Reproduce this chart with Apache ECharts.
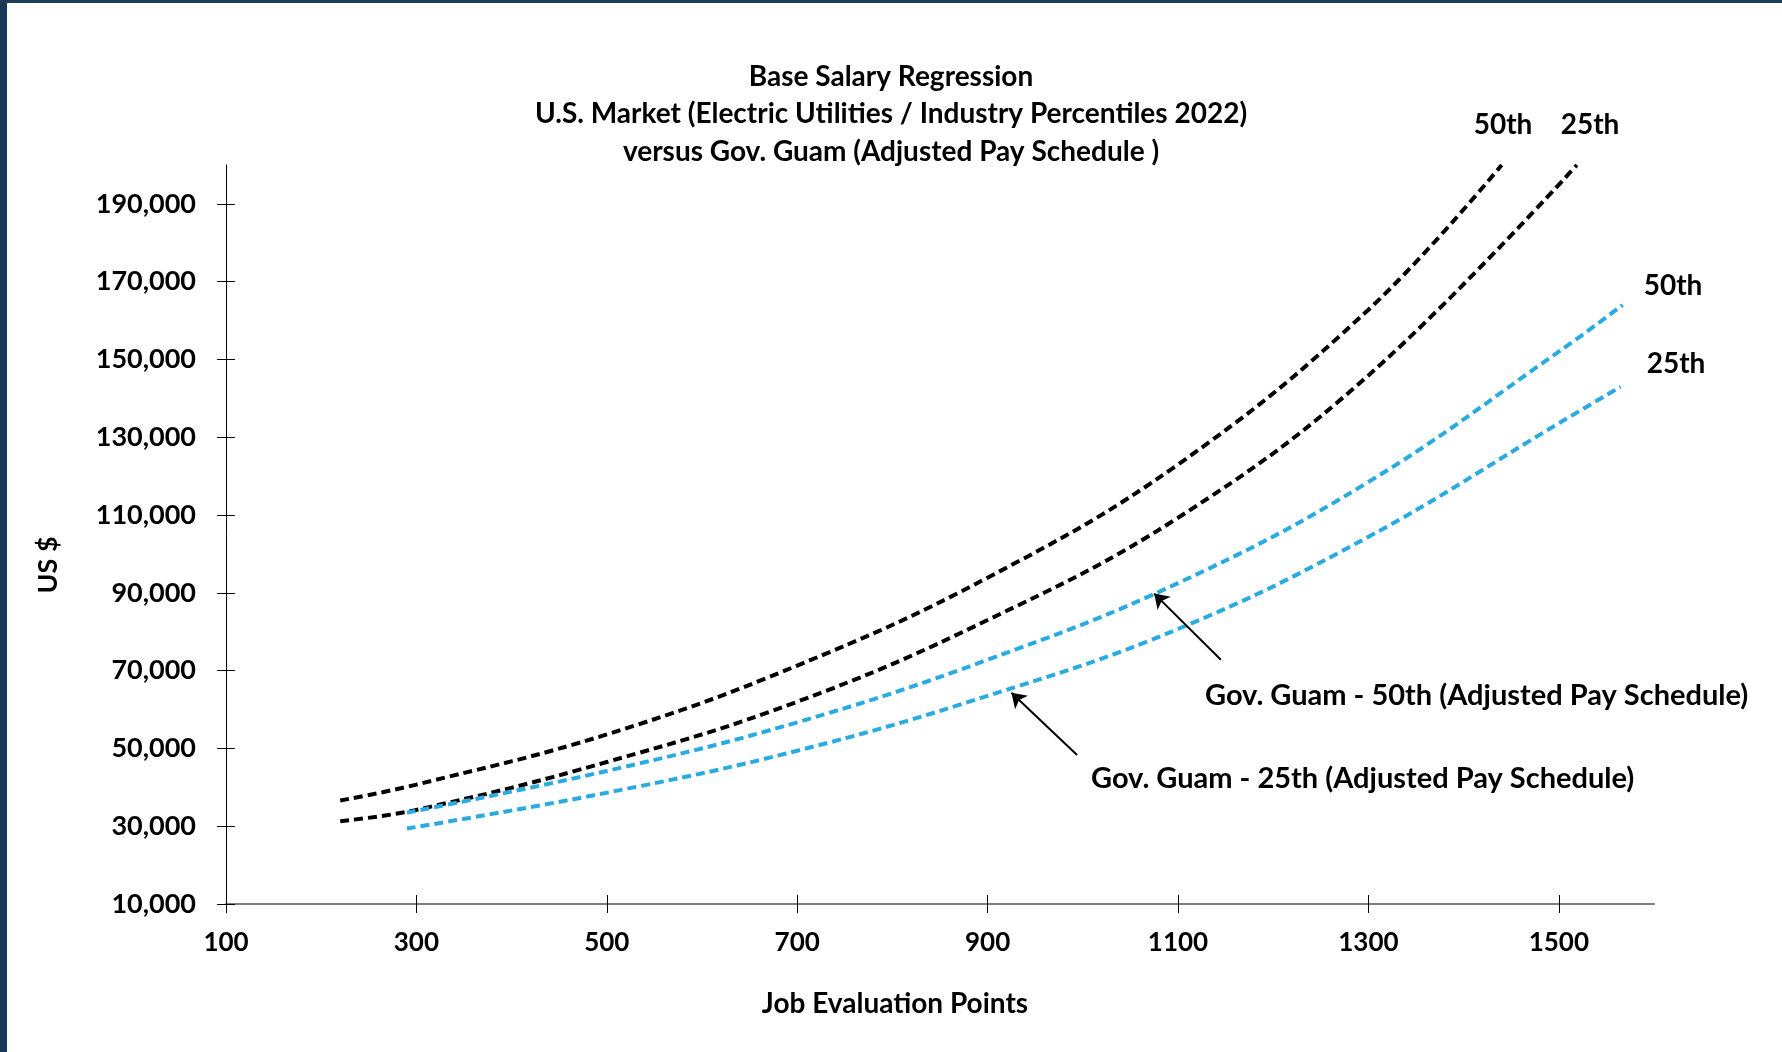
<!DOCTYPE html>
<html>
<head>
    <meta charset="utf-8">
    <title>Base Salary Regression</title>
    <script src="https://cdn.jsdelivr.net/npm/echarts@6/dist/echarts.min.js"></script>
    <style>html,body{margin:0;padding:0;background:#fff;}</style>
</head>
<body>
    <div id="main" style="width:1782px;height:1052px;"></div>
    <script type="text/javascript">
        // tick values
        var xTicks = [100, 300, 500, 700, 900, 1100, 1300, 1500];
        var yTicks = [10000, 30000, 50000, 70000, 90000, 110000, 130000, 150000, 170000, 190000];

        // U.S. market regression lines
        var market50X = [220, 300, 500, 700, 900, 1100, 1300, 1440];
        var market50Y = [36600, 40700, 53600, 71300, 93900, 123000, 162800, 200000];
        var market25X = [220, 300, 500, 700, 900, 1100, 1300, 1519];
        var market25Y = [31300, 34200, 46500, 62000, 83000, 109300, 145900, 200000];

        // Gov. Guam adjusted pay schedule
        var guam50X = [290, 500, 700, 900, 1100, 1300, 1500, 1567];
        var guam50Y = [33500, 44200, 56700, 72800, 92500, 118500, 152000, 164000];
        var guam25X = [290, 500, 700, 900, 1100, 1300, 1500, 1565];
        var guam25Y = [29400, 38600, 49400, 63500, 80700, 104400, 133600, 143000];

        // annotation arrows [tail, tip] in data units
        var arrow50 = [[1145, 72800], [1075, 89800]];
        var arrow25 = [[994, 48300], [925, 64300]];

        function pairs(xs, ys) {
            return xs.map(function (x, i) { return [x, ys[i]]; });
        }

        var FONT = 'Lato';
        var myChart = echarts.init(document.getElementById('main'));

        function txt(x, y, text, size, align, rot) {
            return {
                type: 'text', x: x, y: y, z: 10, rotation: rot || 0,
                style: {
                    text: text, fill: '#000', align: align || 'center', verticalAlign: 'middle',
                    font: 'bold ' + size + 'px ' + FONT
                }
            };
        }

        function dashed(color) {
            return { color: color, width: 4, type: [9, 5] };
        }

        var option = {
            animation: false,
            backgroundColor: '#fff',
            title: {
                text: 'Base Salary Regression\nU.S. Market (Electric Utilities / Industry Percentiles 2022)\nversus Gov. Guam (Adjusted Pay Schedule )',
                left: 'center',
                top: 53,
                textStyle: { fontFamily: FONT, fontSize: 28, fontWeight: 'bold', color: '#000', lineHeight: 37.5 }
            },
            grid: { left: 226, right: 128, top: 165, bottom: 148 },
            xAxis: [{
                type: 'value', min: 100, max: 1600,
                axisLine: { lineStyle: { color: '#7f7f7f', width: 2 } },
                axisTick: { length: 9, lineStyle: { color: '#000', width: 1 }, customValues: xTicks },
                axisLabel: {
                    customValues: xTicks, margin: 26, color: '#000', fontFamily: FONT, fontSize: 26, fontWeight: 'bold',
                    formatter: function (v) { return String(v); }
                },
                splitLine: { show: false }
            }, {
                type: 'value', min: 100, max: 1600, position: 'bottom',
                axisLine: { show: false },
                axisTick: { inside: true, length: 9, lineStyle: { color: '#000', width: 1 }, customValues: xTicks },
                axisLabel: { show: false, customValues: xTicks },
                splitLine: { show: false }
            }],
            yAxis: [{
                type: 'value', min: 10000, max: 200000,
                axisLine: { show: true, lineStyle: { color: '#000', width: 1 } },
                axisTick: { show: true, length: 9, lineStyle: { color: '#000', width: 1 }, customValues: yTicks },
                axisLabel: {
                    customValues: yTicks, margin: 30, color: '#000', fontFamily: FONT, fontSize: 27, fontWeight: 'bold',
                    formatter: function (v) { return v.toLocaleString('en-US'); }
                },
                splitLine: { show: false }
            }, {
                type: 'value', min: 10000, max: 200000, position: 'left',
                axisLine: { show: false },
                axisTick: { show: true, inside: true, length: 9, lineStyle: { color: '#000', width: 1 }, customValues: yTicks },
                axisLabel: { show: false, customValues: yTicks },
                splitLine: { show: false }
            }],
            series: [{
                name: 'Market 50th', type: 'line', smooth: 0.4, showSymbol: false,
                data: pairs(market50X, market50Y), lineStyle: dashed('#000')
            }, {
                name: 'Market 25th', type: 'line', smooth: 0.4, showSymbol: false,
                data: pairs(market25X, market25Y), lineStyle: dashed('#000')
            }, {
                name: 'Gov. Guam 50th', type: 'line', smooth: 0.4, showSymbol: false,
                data: pairs(guam50X, guam50Y), lineStyle: dashed('#29abe2'),
                markLine: {
                    silent: true, symbol: ['none', 'arrow'], symbolSize: 14,
                    lineStyle: { color: '#000', width: 2, type: 'solid' }, label: { show: false },
                    data: [[{ coord: arrow50[0] }, { coord: arrow50[1] }]]
                }
            }, {
                name: 'Gov. Guam 25th', type: 'line', smooth: 0.4, showSymbol: false,
                data: pairs(guam25X, guam25Y), lineStyle: dashed('#29abe2'),
                markLine: {
                    silent: true, symbol: ['none', 'arrow'], symbolSize: 14,
                    lineStyle: { color: '#000', width: 2, type: 'solid' }, label: { show: false },
                    data: [[{ coord: arrow25[0] }, { coord: arrow25[1] }]]
                }
            }],
            graphic: [
                { type: 'rect', shape: { x: 0, y: 0, width: 7, height: 1052 }, style: { fill: '#163a56' }, z: 20 },
                { type: 'rect', shape: { x: 0, y: 0, width: 1782, height: 3 }, style: { fill: '#1e3e58' }, z: 20 },
                txt(1503, 125, '50th', 28),
                txt(1590, 125, '25th', 28),
                txt(1673, 286, '50th', 28),
                txt(1676, 364, '25th', 28),
                txt(1205, 696, 'Gov. Guam - 50th (Adjusted Pay Schedule)', 29, 'left'),
                txt(1091, 779, 'Gov. Guam - 25th (Adjusted Pay Schedule)', 29, 'left'),
                txt(895, 1004, 'Job Evaluation Points', 28),
                txt(48, 565, 'US $', 27, 'center', Math.PI / 2)
            ]
        };

        myChart.setOption(option);
    </script>
</body>
</html>
